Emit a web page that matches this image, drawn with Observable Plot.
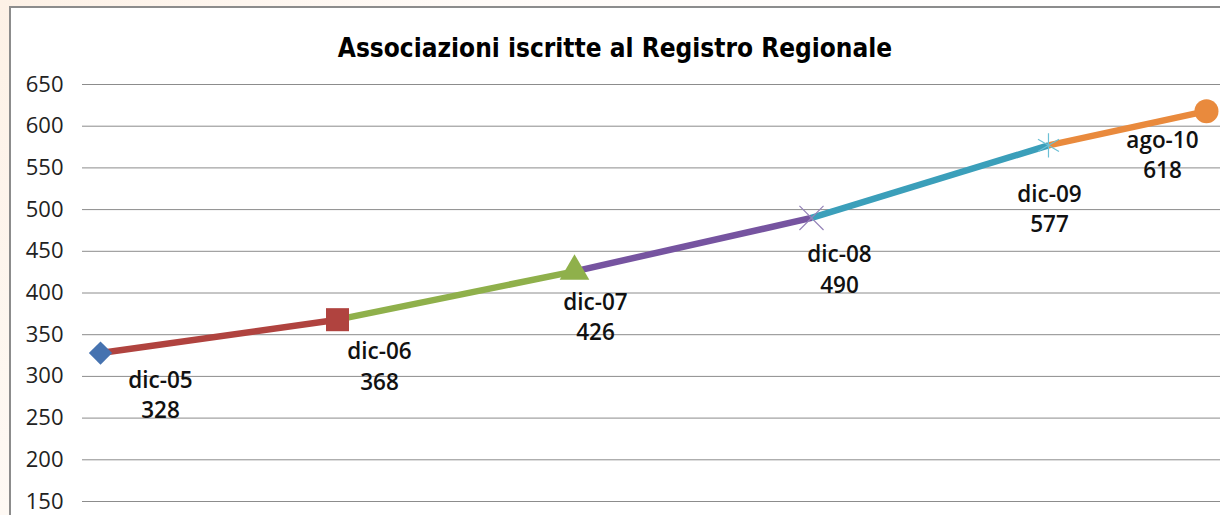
<!DOCTYPE html>
<html><head><meta charset="utf-8">
<script src="https://cdn.jsdelivr.net/npm/d3@7"></script>
<script src="https://cdn.jsdelivr.net/npm/@observablehq/plot@0.6"></script>
<style>
body{margin:0;width:1220px;height:515px;overflow:hidden;background:#fff;font-family:"Open Sans",sans-serif;position:relative}
#strip{position:absolute;left:0;top:0;width:9px;height:515px;background:linear-gradient(#fdf1e6,#fef9f4)}
#topstrip{position:absolute;left:0;top:0;width:1220px;height:6px;background:linear-gradient(90deg,#fdf1e6,#fffbf8 40%,#fff)}
#frame{position:absolute;left:9px;top:6px;width:1211px;height:509px;border-left:2px solid #8c8c8c;border-top:2px solid #8c8c8c;box-sizing:border-box}
#title{position:absolute;left:10px;width:1210px;top:32px;text-align:center;font-family:"DejaVu Sans Condensed","DejaVu Sans",sans-serif;font-weight:700;font-size:26px;line-height:32px;color:#000}
#chart{position:absolute;left:0;top:64px}
</style></head><body>
<div id="strip"></div><div id="topstrip"></div><div id="frame"></div>
<div id="title">Associazioni iscritte al Registro Regionale</div>
<div id="chart"></div>
<script>
const periods = ["dic-05","dic-06","dic-07","dic-08","dic-09","ago-10"];
const monthIndex = [0, 12, 24, 36, 48, 56];
const values = [328, 368, 426, 490, 577, 618];
const yTicks = [150, 200, 250, 300, 350, 400, 450, 500, 550, 600, 650];

// styles
const segmentColors = ["#b0433f", "#8fb04b", "#7654a0", "#3b9fba", "#e98a3d"];
const markerSymbols = ["diamond2", "square", "triangle", "times", "asterisk", "circle"];
const markerColors = ["#4673b0", "#b0433f", "#8fb04b", "#9583b8", "#6cc0d6", "#e98a3d"];
const markerFilled = [true, true, true, false, false, true];
const markerR = [10.5, 13, 11, 11, 11.5, 12];
const labelOffsets = [[60, 40], [42, 45], [21, 44], [28, 50], [1, 62], [-44, 42]];

const points = periods.map((p, i) => ({period: p, m: monthIndex[i], v: values[i]}));
const segments = d3.pairs(points).map(([a, b], i) => ({x1: a.m, y1: a.v, x2: b.m, y2: b.v, c: segmentColors[i]}));

const marks = [
  Plot.gridY(yTicks, {stroke: "#8c8c8c", strokeOpacity: 1, strokeWidth: 1}),
  Plot.axisY(yTicks, {tickSize: 9, tickPadding: 19, fontSize: 22, fill: "#222", stroke: "#8c8c8c", label: null, line: true, tickFormat: d => String(d)}),
  Plot.link(segments, {x1: "x1", y1: "y1", x2: "x2", y2: "y2", stroke: "c", strokeWidth: 6.5, strokeLinecap: "butt"})
];
points.forEach((p, i) => {
  marks.push(Plot.dot([p], {
    x: "m", y: "v", symbol: markerSymbols[i], r: markerR[i],
    fill: markerFilled[i] ? markerColors[i] : "none",
    stroke: markerFilled[i] ? "none" : markerColors[i],
    strokeWidth: markerFilled[i] ? 0 : 1.2
  }));
  marks.push(Plot.text([p], {
    x: "m", y: "v", text: d => d.period + "\n" + d.v,
    dx: labelOffsets[i][0], dy: labelOffsets[i][1],
    fontSize: 22.5, fontWeight: 600, fill: "#111", lineHeight: 1.36, textAnchor: "middle"
  }));
});

const chart = Plot.plot({
  width: 1220, height: 451,
  marginLeft: 91, marginRight: 0, marginTop: 20, marginBottom: 14,
  style: {fontFamily: "Open Sans, sans-serif", background: "transparent", overflow: "visible"},
  x: {domain: [-0.456, 56.71], axis: null},
  y: {domain: [150, 650], axis: null},
  color: {type: "identity"},
  marks
});
document.getElementById("chart").appendChild(chart);
</script>
</body></html>
